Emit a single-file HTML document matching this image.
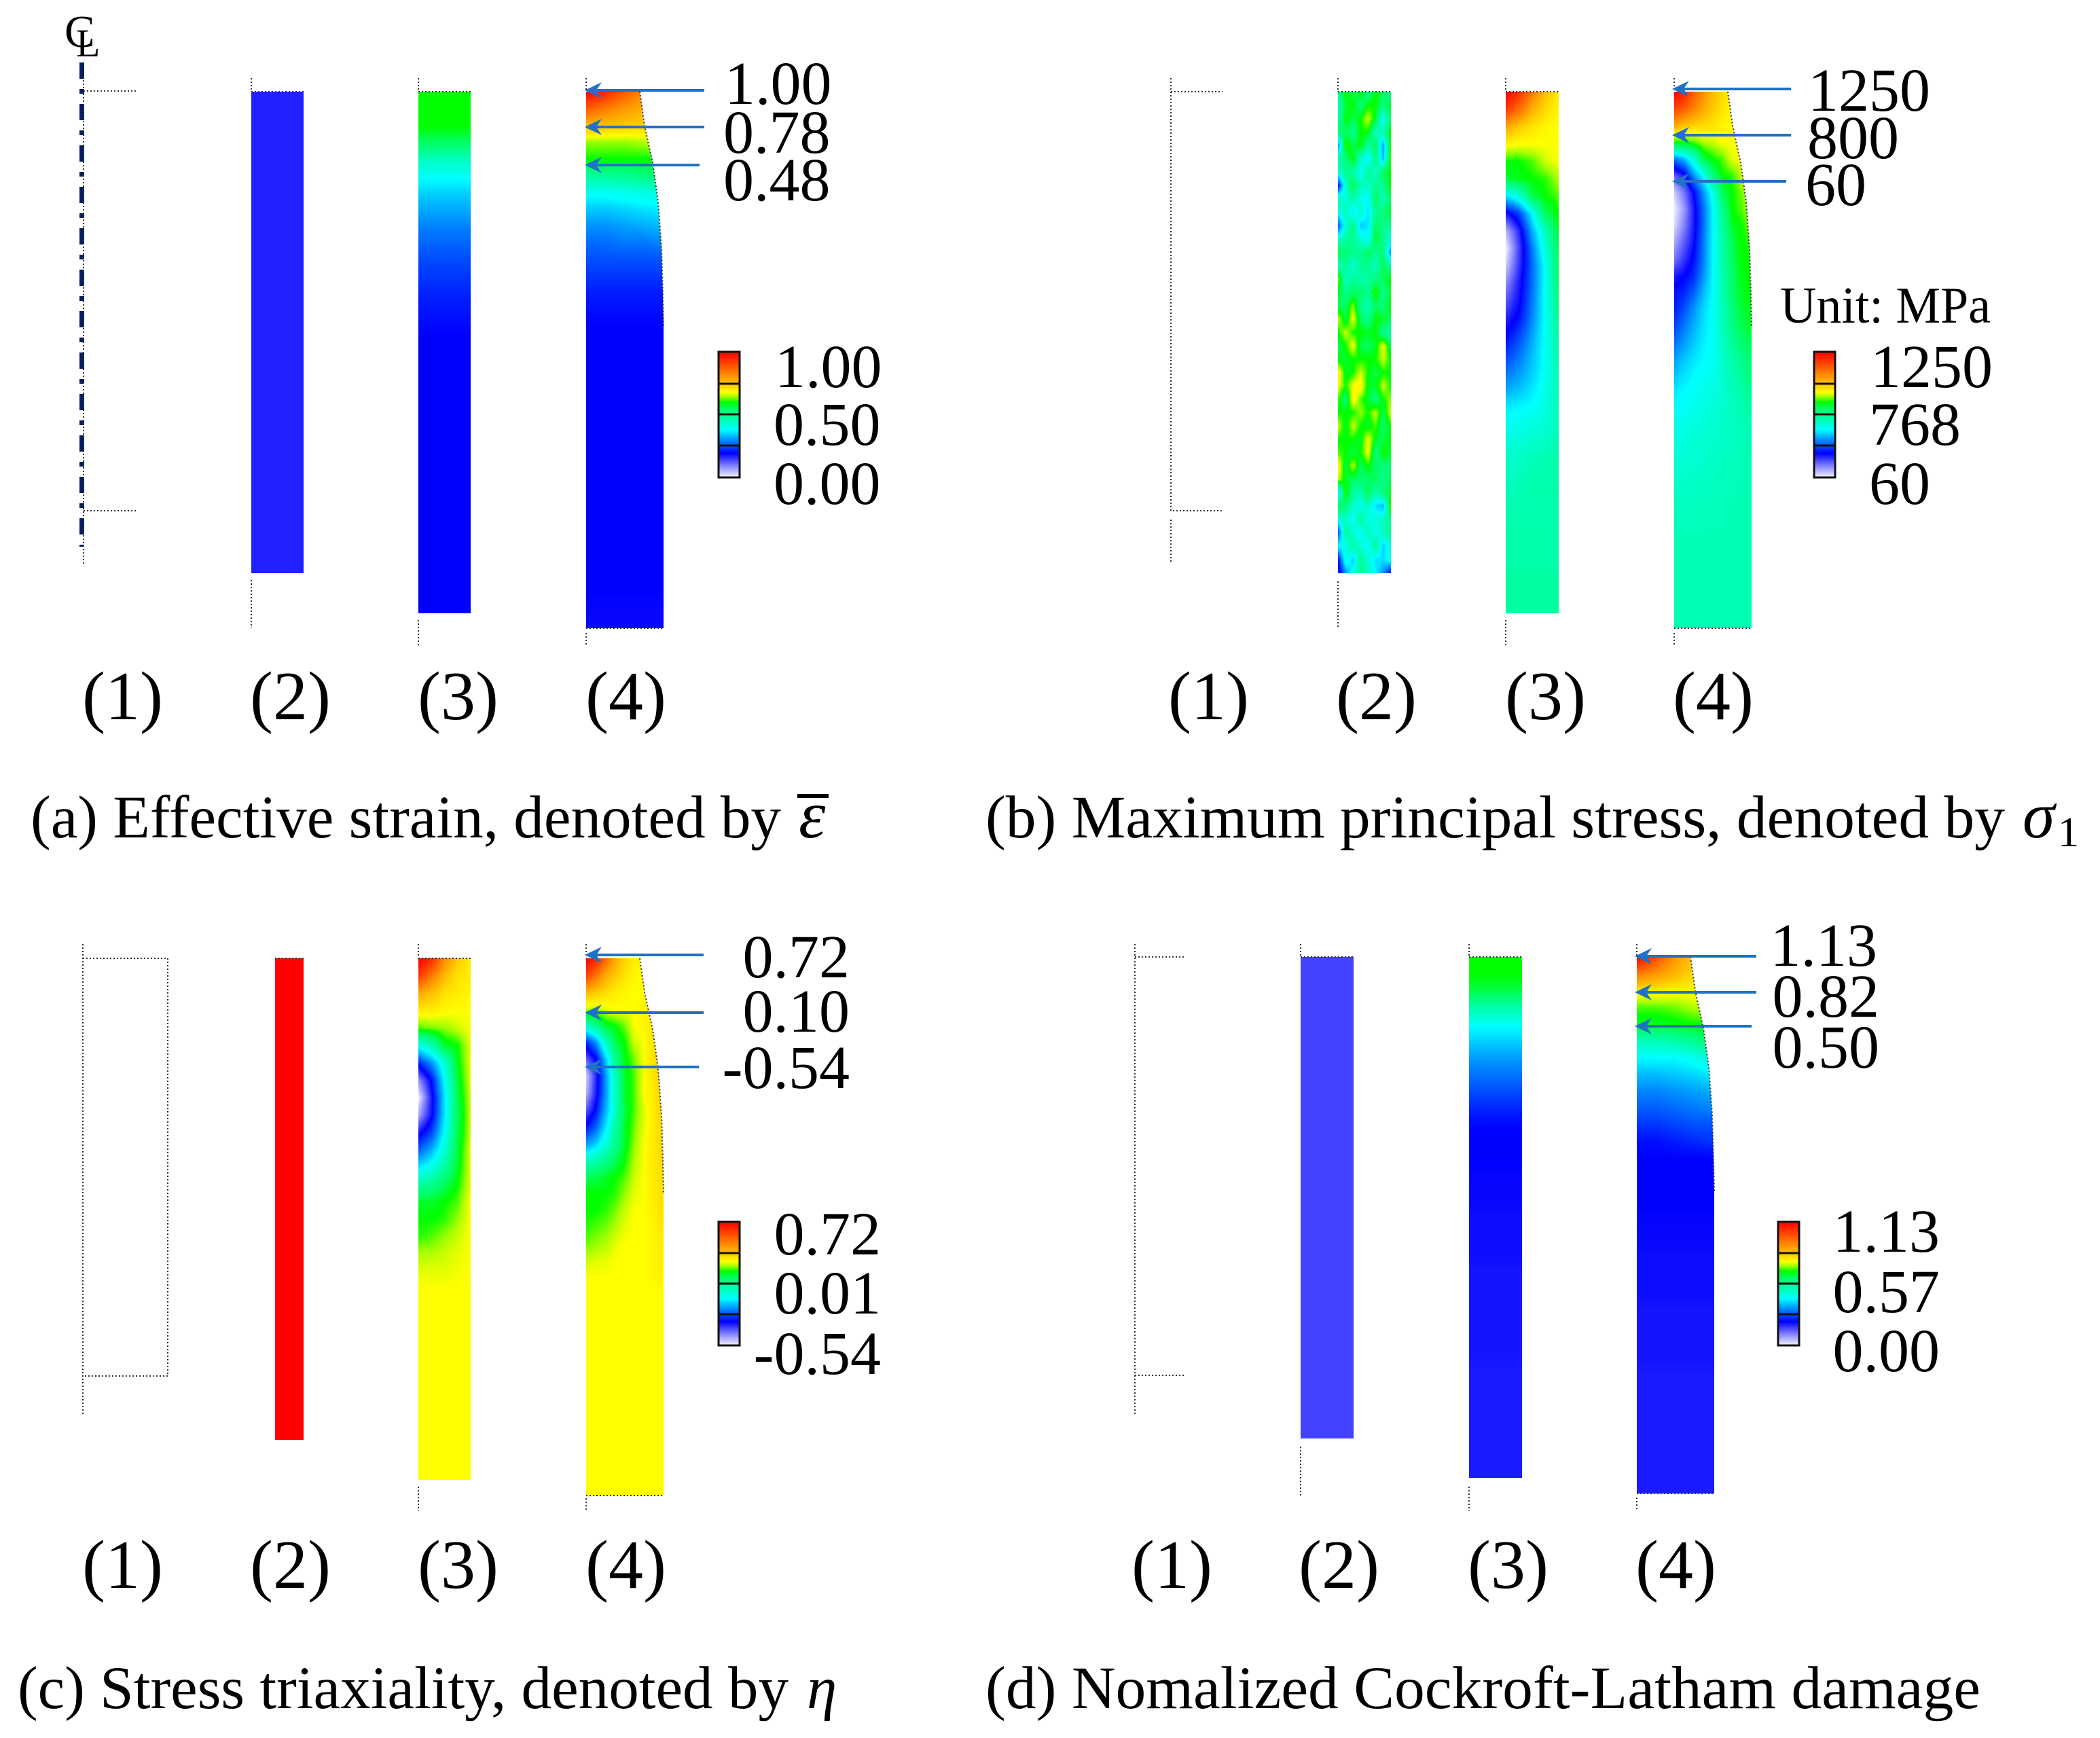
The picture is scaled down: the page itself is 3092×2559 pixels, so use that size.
<!DOCTYPE html>
<html lang="en">
<head>
<meta charset="utf-8">
<title>Contours of strain, stress, triaxiality and damage</title>
<style>
html,body{margin:0;padding:0;background:#fff}
#figure{position:relative;width:3092px;height:2559px;overflow:hidden;background:#fff}
canvas{position:absolute;display:block}
svg{position:absolute;left:0;top:0}
text{font-family:"Liberation Serif","Times New Roman",serif;fill:#000}
.num{font-size:90px}
.stage{font-size:102px}
.cap{font-size:89px}
.greek{font-size:89px;font-style:italic}
.dot{stroke:#333;stroke-width:2;stroke-dasharray:2 3;fill:none}
.arrow-line{stroke:#1f72c4;stroke-width:4}
.arrow-head{fill:#1f72c4}
.frame{fill:none;stroke:#111;stroke-width:3}
.divider{stroke:#111;stroke-width:3}
.neck{clip-path:polygon(0 0,79px 0,86px 50px,98px 105px,106px 162px,111px 232px,113px 298px,114px 345px,114px 100%,0 100%)}
</style>
</head>
<body>
<div id="figure">
<!-- panel a -->
<canvas id="a2" width="77" height="709" style="left:370px;top:135px"></canvas>
<canvas id="a3" width="77" height="768" style="left:616px;top:135px"></canvas>
<canvas id="a4" class="neck" width="114" height="790" style="left:863px;top:135px"></canvas>
<canvas id="legA" class="leg" width="31" height="185" style="left:1058px;top:518px"></canvas>
<!-- panel b -->
<canvas id="b2" width="78" height="709" style="left:1970px;top:135px"></canvas>
<canvas id="b3" width="78" height="768" style="left:2217px;top:135px"></canvas>
<canvas id="b4" class="neck" width="114" height="790" style="left:2465px;top:135px"></canvas>
<canvas id="legB" class="leg" width="31" height="185" style="left:2671px;top:518px"></canvas>
<!-- panel c -->
<canvas id="c2" width="42" height="709" style="left:405px;top:1411px"></canvas>
<canvas id="c3" width="77" height="768" style="left:616px;top:1411px"></canvas>
<canvas id="c4" class="neck" width="114" height="791" style="left:863px;top:1411px"></canvas>
<canvas id="legC" class="leg" width="31" height="182" style="left:1058px;top:1799px"></canvas>
<!-- panel d -->
<canvas id="d2" width="78" height="709" style="left:1915px;top:1409px"></canvas>
<canvas id="d3" width="78" height="767" style="left:2163px;top:1409px"></canvas>
<canvas id="d4" class="neck" width="114" height="790" style="left:2410px;top:1409px"></canvas>
<canvas id="legD" class="leg" width="31" height="182" style="left:2618px;top:1799px"></canvas>

<svg width="3092" height="2559" viewBox="0 0 3092 2559">
<defs>
<g id="head"><polygon points="0,0 25,-12 17,0 25,12" class="arrow-head"/></g>
</defs>

<!-- panel a annotations -->
<g>
<line x1="120.5" y1="92" x2="120.5" y2="805" stroke="#001f5f" stroke-width="7" stroke-dasharray="24 15 7 15"/>
<text x="95" y="69" style="font-size:67px">C</text>
<text x="112" y="83" style="font-size:58px">L</text>
<path class="dot" d="M123 113V830M123 134H200M123 752H200M370 115V135M370 854V925M616 115V135M616 913V950M863 115V135M863 925H977M863 932V950M370 135H447M616 135H693"/>
<path class="dot" transform="translate(863,135)" d="M79 0L86 50L98 105L106 162L111 232L113 298L114 345"/>
<g>
<line class="arrow-line" x1="870" y1="133" x2="1037" y2="133"/><use href="#head" x="861" y="133"/>
<line class="arrow-line" x1="870" y1="187" x2="1037" y2="187"/><use href="#head" x="861" y="187"/>
<line class="arrow-line" x1="870" y1="243" x2="1030" y2="243"/><use href="#head" x="861" y="243"/>
</g>
<text class="num" x="1067" y="153">1.00</text>
<text class="num" x="1065" y="225">0.78</text>
<text class="num" x="1065" y="295">0.48</text>
<text class="num" x="1141" y="570">1.00</text>
<text class="num" x="1139" y="655">0.50</text>
<text class="num" x="1139" y="742">0.00</text>
<rect class="frame" x="1058" y="518" width="31" height="185"/>
<path class="divider" d="M1058 565H1089M1058 610H1089M1058 656H1089"/>
<text class="stage" x="121" y="1059">(1)</text>
<text class="stage" x="368" y="1059">(2)</text>
<text class="stage" x="615" y="1059">(3)</text>
<text class="stage" x="862" y="1059">(4)</text>
<text class="cap" x="45" y="1233" textLength="1105" lengthAdjust="spacingAndGlyphs">(a) Effective strain, denoted by</text>
<text class="greek" x="1176" y="1233" style="font-size:100px">ε</text>
<line x1="1174" y1="1172" x2="1220" y2="1172" stroke="#000" stroke-width="6"/>
</g>

<!-- panel b annotations -->
<g>
<path class="dot" d="M1724 115V752H1800M1724 135H1800M1724 765V830M1970 115V135M1970 856V925M2217 115V135M2217 913V950M2465 115V135M2465 925H2579M2465 932V950M1970 135H2048M2217 135H2295"/>
<path class="dot" transform="translate(2465,135)" d="M79 0L86 50L98 105L106 162L111 232L113 298L114 345"/>
<g>
<line class="arrow-line" x1="2470" y1="131" x2="2637" y2="131"/><use href="#head" x="2462" y="131"/>
<line class="arrow-line" x1="2470" y1="199" x2="2637" y2="199"/><use href="#head" x="2462" y="199"/>
<line class="arrow-line" x1="2470" y1="267" x2="2630" y2="267"/><use href="#head" x="2462" y="267"/>
</g>
<text class="num" x="2662" y="163">1250</text>
<text class="num" x="2661" y="233">800</text>
<text class="num" x="2658" y="302">60</text>
<text x="2621" y="475" style="font-size:76px" textLength="310" lengthAdjust="spacingAndGlyphs">Unit: MPa</text>
<text class="num" x="2754" y="570">1250</text>
<text class="num" x="2752" y="655">768</text>
<text class="num" x="2752" y="742">60</text>
<rect class="frame" x="2671" y="518" width="31" height="185"/>
<path class="divider" d="M2671 565H2702M2671 610H2702M2671 656H2702"/>
<text class="stage" x="1720" y="1059">(1)</text>
<text class="stage" x="1967" y="1059">(2)</text>
<text class="stage" x="2216" y="1059">(3)</text>
<text class="stage" x="2463" y="1059">(4)</text>
<text class="cap" x="1451" y="1233" textLength="1501" lengthAdjust="spacingAndGlyphs">(b) Maximum principal stress, denoted by</text>
<text class="greek" x="2978" y="1233" style="font-size:96px">σ</text>
<text x="3030" y="1246" style="font-size:62px">1</text>
</g>

<!-- panel c annotations -->
<g>
<path class="dot" d="M122 1390V2085M122 1411H247V2026H122M405 1411H447M616 1390V1411M616 1411H693M616 2189V2225M863 1390V1411M863 2202H977M863 2206V2225"/>
<path class="dot" transform="translate(863,1411)" d="M79 0L86 50L98 105L106 162L111 232L113 298L114 345"/>
<g>
<line class="arrow-line" x1="870" y1="1406" x2="1036" y2="1406"/><use href="#head" x="861" y="1406"/>
<line class="arrow-line" x1="870" y1="1491" x2="1036" y2="1491"/><use href="#head" x="861" y="1491"/>
<line class="arrow-line" x1="870" y1="1571" x2="1029" y2="1571"/><use href="#head" x="861" y="1571"/>
</g>
<text class="num" x="1251" y="1439" text-anchor="end">0.72</text>
<text class="num" x="1251" y="1519" text-anchor="end">0.10</text>
<text class="num" x="1251" y="1602" text-anchor="end">-0.54</text>
<text class="num" x="1297" y="1847" text-anchor="end">0.72</text>
<text class="num" x="1297" y="1934" text-anchor="end">0.01</text>
<text class="num" x="1297" y="2023" text-anchor="end">-0.54</text>
<rect class="frame" x="1058" y="1799" width="31" height="182"/>
<path class="divider" d="M1058 1845H1089M1058 1890H1089M1058 1935H1089"/>
<text class="stage" x="121" y="2338">(1)</text>
<text class="stage" x="368" y="2338">(2)</text>
<text class="stage" x="615" y="2338">(3)</text>
<text class="stage" x="862" y="2338">(4)</text>
<text class="cap" x="26" y="2515" textLength="1135" lengthAdjust="spacingAndGlyphs">(c) Stress triaxiality, denoted by</text>
<text class="greek" x="1188" y="2515">η</text>
</g>

<!-- panel d annotations -->
<g>
<path class="dot" d="M1671 1390V2085M1671 1409H1743M1671 2025H1743M1915 1390V1409M1915 2130V2205M1915 1409H1993M2163 1390V1409M2163 1409H2241M2163 2189V2225M2410 1390V1409M2410 2199H2524M2410 2205V2225"/>
<path class="dot" transform="translate(2410,1409)" d="M79 0L86 50L98 105L106 162L111 232L113 298L114 345"/>
<g>
<line class="arrow-line" x1="2416" y1="1408" x2="2586" y2="1408"/><use href="#head" x="2407" y="1408"/>
<line class="arrow-line" x1="2416" y1="1461" x2="2586" y2="1461"/><use href="#head" x="2407" y="1461"/>
<line class="arrow-line" x1="2416" y1="1511" x2="2579" y2="1511"/><use href="#head" x="2407" y="1511"/>
</g>
<text class="num" x="2764" y="1422" text-anchor="end">1.13</text>
<text class="num" x="2767" y="1497" text-anchor="end">0.82</text>
<text class="num" x="2767" y="1572" text-anchor="end">0.50</text>
<text class="num" x="2856" y="1843" text-anchor="end">1.13</text>
<text class="num" x="2856" y="1932" text-anchor="end">0.57</text>
<text class="num" x="2856" y="2019" text-anchor="end">0.00</text>
<rect class="frame" x="2618" y="1799" width="31" height="182"/>
<path class="divider" d="M2618 1845H2649M2618 1890H2649M2618 1935H2649"/>
<text class="stage" x="1666" y="2338">(1)</text>
<text class="stage" x="1912" y="2338">(2)</text>
<text class="stage" x="2161" y="2338">(3)</text>
<text class="stage" x="2408" y="2338">(4)</text>
<text class="cap" x="1451" y="2515" textLength="1465" lengthAdjust="spacingAndGlyphs">(d) Nomalized Cockroft-Latham damage</text>
</g>
</svg>
</div>

<script>
// Colour scale: normalised contour value (0 = min, 1 = max) to RGB.
const scaleLevels = [0, 0.1, 0.19, 0.38, 0.55, 0.6, 0.64, 0.68, 0.75, 1];
const scaleColors = [[240,240,255],[118,118,255],[0,0,255],[0,255,255],[0,255,96],[0,255,0],[150,255,0],[255,255,0],[255,192,0],[255,0,0]];

// Field grids: rows are evenly spaced over each bar's height, columns evenly
// spaced over its width. A one-value row is uniform across the width.
const strain2 = [[0.165]];
const strain3 = [[0.6],[0.6],[0.6],[0.54],[0.44],[0.38],[0.34],[0.31],[0.28],[0.26],[0.24],[0.225],[0.21],[0.2],[0.19],[0.19],[0.19],[0.19],[0.19],[0.19],[0.19],[0.19],[0.19],[0.19],[0.19],[0.19],[0.19],[0.19],[0.19],[0.19],[0.19]];
const strain4 = [
[1,0.95,0.88,0.82,0.78],[0.88,0.84,0.8,0.77,0.75],[0.76,0.75,0.74,0.73,0.72],[0.64,0.64,0.64,0.65,0.66],
[0.6,0.6,0.6,0.6,0.6],[0.48,0.49,0.5,0.52,0.53],[0.39,0.395,0.4,0.41,0.42],[0.34,0.34,0.35,0.36,0.37],
[0.3,0.3,0.31,0.32,0.33],[0.27,0.27,0.28,0.28,0.29],[0.25],[0.23],[0.21],[0.2],[0.19],[0.19],[0.19],[0.19],[0.19],[0.19],
[0.19],[0.19],[0.19],[0.19],[0.19],[0.19],[0.19],[0.19],[0.19],[0.19],[0.19],[0.185],[0.185]];

const stress2 = [
[0.5,0.6,0.55,0.6,0.5,0.6,0.55,0.5],
[0.45,0.58,0.6,0.52,0.6,0.6,0.52,0.58],
[0.46,0.6,0.56,0.6,0.66,0.58,0.38,0.55],
[0.52,0.55,0.5,0.6,0.6,0.44,0.46,0.6],
[0.3,0.62,0.56,0.6,0.48,0.55,0.3,0.6],
[0.46,0.52,0.6,0.44,0.36,0.52,0.32,0.62],
[0.42,0.5,0.48,0.38,0.5,0.44,0.55,0.6],
[0.2,0.44,0.56,0.46,0.44,0.5,0.5,0.6],
[0.45,0.42,0.48,0.4,0.38,0.55,0.44,0.55],
[0.4,0.46,0.36,0.44,0.36,0.5,0.52,0.58],
[0.25,0.42,0.52,0.34,0.36,0.55,0.5,0.5],
[0.42,0.48,0.5,0.42,0.38,0.58,0.5,0.42],
[0.56,0.52,0.5,0.5,0.55,0.5,0.52,0.3],
[0.44,0.5,0.42,0.5,0.5,0.44,0.56,0.48],
[0.64,0.44,0.5,0.46,0.48,0.52,0.55,0.6],
[0.58,0.5,0.55,0.54,0.5,0.62,0.5,0.58],
[0.55,0.55,0.64,0.5,0.46,0.55,0.52,0.6],
[0.66,0.56,0.68,0.55,0.5,0.6,0.58,0.55],
[0.6,0.66,0.6,0.6,0.58,0.6,0.5,0.48],
[0.56,0.6,0.68,0.56,0.55,0.58,0.68,0.56],
[0.58,0.58,0.6,0.6,0.6,0.6,0.66,0.6],
[0.7,0.58,0.6,0.66,0.6,0.56,0.6,0.6],
[0.68,0.6,0.68,0.7,0.58,0.58,0.66,0.6],
[0.62,0.52,0.7,0.62,0.58,0.52,0.6,0.64],
[0.6,0.6,0.6,0.64,0.6,0.66,0.56,0.66],
[0.66,0.58,0.66,0.6,0.58,0.62,0.54,0.6],
[0.6,0.6,0.6,0.58,0.68,0.58,0.56,0.6],
[0.62,0.6,0.56,0.6,0.68,0.52,0.6,0.58],
[0.7,0.56,0.66,0.55,0.6,0.54,0.52,0.54],
[0.66,0.58,0.55,0.54,0.54,0.56,0.5,0.56],
[0.35,0.62,0.48,0.46,0.56,0.46,0.52,0.58],
[0.55,0.52,0.44,0.4,0.44,0.36,0.32,0.62],
[0.4,0.44,0.38,0.5,0.4,0.42,0.44,0.5],
[0.25,0.5,0.42,0.38,0.46,0.4,0.44,0.5],
[0.38,0.4,0.48,0.42,0.38,0.5,0.34,0.42],
[0.2,0.42,0.34,0.5,0.42,0.36,0.36,0.4],
[0.16,0.3,0.4,0.5,0.44,0.38,0.3,0.2]];
const stress3 = [
[1,0.94,0.84,0.75,0.7],[0.93,0.86,0.77,0.72,0.69],[0.78,0.74,0.71,0.69,0.68],[0.69,0.68,0.68,0.68,0.68],
[0.6,0.6,0.62,0.66,0.68],[0.57,0.59,0.6,0.61,0.65],[0.36,0.42,0.56,0.6,0.62],[0.17,0.24,0.38,0.55,0.6],
[0.05,0.16,0.32,0.45,0.58],[0,0.14,0.28,0.42,0.56],[0.03,0.15,0.27,0.39,0.55],[0.08,0.17,0.27,0.39,0.54],
[0.12,0.18,0.28,0.39,0.52],[0.16,0.2,0.29,0.39,0.5],[0.19,0.24,0.31,0.39,0.49],[0.23,0.27,0.33,0.39,0.48],
[0.27,0.3,0.34,0.39,0.47],[0.31,0.33,0.36,0.4,0.47],[0.36,0.37,0.38,0.41,0.46],[0.39,0.4,0.41,0.42,0.46],
[0.41,0.42,0.43,0.44,0.46],[0.43,0.44,0.45,0.46,0.47],[0.44,0.45,0.46,0.47,0.47],[0.45,0.46,0.47,0.47,0.48],
[0.46,0.47],[0.47],[0.47],[0.47],[0.48],[0.48],[0.48]];
const stress4 = [
[1,0.96,0.88,0.82,0.76,0.72,0.69,0.68,0.68],[0.92,0.88,0.83,0.78,0.74,0.71,0.69,0.68,0.68],[0.78,0.75,0.73,0.72,0.71,0.69,0.68,0.68,0.68],
[0.6,0.6,0.62,0.65,0.66,0.68,0.68,0.68,0.68],[0.28,0.33,0.42,0.56,0.6,0.62,0.67,0.68,0.68],[0.12,0.17,0.3,0.38,0.52,0.6,0.61,0.66,0.68],
[0.03,0.1,0.19,0.3,0.4,0.55,0.6,0.63,0.68],[0,0.07,0.17,0.27,0.38,0.5,0.6,0.62,0.66],[0.02,0.09,0.17,0.27,0.38,0.48,0.58,0.6,0.64],
[0.06,0.12,0.18,0.28,0.38,0.47,0.56,0.6,0.61],[0.1,0.15,0.2,0.28,0.38,0.47,0.55,0.6,0.6],[0.17,0.19,0.22,0.3,0.38,0.46,0.54,0.59,0.6],
[0.2,0.22,0.26,0.33,0.38,0.46,0.54,0.58,0.6],[0.21,0.25,0.3,0.35,0.39,0.45,0.52,0.57,0.59],[0.24,0.28,0.32,0.36,0.39,0.45,0.51,0.56,0.58],
[0.27,0.31,0.34,0.37,0.39,0.44,0.49,0.53,0.56],[0.31,0.34,0.36,0.38,0.39,0.43,0.47,0.5,0.54],[0.34,0.36,0.38,0.39,0.4,0.43,0.46,0.49,0.52],
[0.37,0.38,0.39,0.4,0.41,0.43,0.45,0.47,0.5],[0.38,0.39,0.4,0.41,0.42,0.43,0.45,0.46,0.48],[0.4,0.42,0.44,0.46],[0.41,0.43,0.44,0.46],
[0.42,0.43,0.45,0.46],[0.43,0.44,0.45,0.46],[0.44,0.45,0.46],[0.45,0.46],[0.45,0.46],[0.46],[0.46],[0.46],[0.46],[0.46],[0.46]];

const triax2 = [[1]];
const triax3 = [
[1,0.95,0.82,0.74,0.7],[0.93,0.84,0.76,0.71,0.7],[0.78,0.75,0.71,0.7,0.69],[0.7,0.7,0.69,0.68,0.68],
[0.62,0.63,0.64,0.66,0.68],[0.4,0.46,0.58,0.6,0.67],[0.22,0.3,0.42,0.59,0.67],[0.08,0.2,0.38,0.57,0.67],
[0,0.17,0.36,0.56,0.66],[0.06,0.18,0.36,0.55,0.66],[0.17,0.24,0.38,0.56,0.66],[0.26,0.32,0.42,0.57,0.67],
[0.36,0.4,0.48,0.58,0.67],[0.48,0.5,0.55,0.6,0.67],[0.58,0.58,0.6,0.62,0.68],[0.6,0.6,0.61,0.64,0.68],
[0.61,0.62,0.64,0.66,0.68],[0.65,0.65,0.66,0.67,0.68],[0.67,0.67,0.68],[0.68],[0.68],[0.68],[0.68],[0.68],[0.68],[0.68],[0.68],[0.68],[0.68],[0.68],[0.68]];
const triax4 = [
[1,0.95,0.87,0.78,0.73,0.7,0.69,0.68,0.68],[0.92,0.85,0.78,0.74,0.71,0.69,0.68,0.68,0.68],[0.76,0.74,0.72,0.7,0.69,0.68,0.68,0.68,0.68],
[0.66,0.66,0.67,0.68,0.68,0.68,0.69,0.7,0.7],[0.44,0.5,0.58,0.6,0.63,0.68,0.69,0.71,0.73],[0.22,0.3,0.44,0.56,0.6,0.66,0.68,0.71,0.74],
[0.12,0.19,0.34,0.5,0.59,0.63,0.68,0.71,0.75],[0.03,0.16,0.3,0.45,0.58,0.62,0.68,0.71,0.74],[0.05,0.17,0.3,0.44,0.58,0.62,0.68,0.7,0.74],
[0.12,0.2,0.32,0.44,0.57,0.62,0.67,0.7,0.74],[0.2,0.26,0.36,0.47,0.58,0.63,0.67,0.7,0.73],[0.3,0.34,0.41,0.5,0.58,0.64,0.68,0.7,0.73],
[0.43,0.46,0.5,0.55,0.6,0.65,0.68,0.7,0.73],[0.55,0.56,0.58,0.6,0.62,0.66,0.68,0.7,0.72],[0.6,0.6,0.6,0.61,0.64,0.67,0.68,0.7,0.72],
[0.6,0.6,0.61,0.63,0.66,0.68,0.68,0.7,0.71],[0.61,0.62,0.63,0.65,0.67,0.68,0.68,0.69,0.71],[0.63,0.64,0.65,0.67,0.68,0.68,0.68,0.69,0.7],
[0.66,0.67,0.67,0.68,0.68,0.68,0.68,0.69,0.7],[0.68,0.68,0.68,0.68,0.68,0.68,0.68,0.69,0.69],[0.68],[0.68],[0.68],[0.68],[0.68],[0.68],[0.68],[0.68],[0.68],[0.68],[0.68],[0.68],[0.68]];

const damage2 = [[0.14]];
const damage3 = [[0.6],[0.6],[0.56],[0.46],[0.38],[0.34],[0.3],[0.27],[0.24],[0.21],[0.19],[0.19],[0.19],[0.185],[0.185],[0.18],[0.18],[0.18],[0.175],[0.175],[0.175],[0.175],[0.175],[0.175],[0.17],[0.17],[0.17],[0.17],[0.17],[0.17],[0.17]];
const damage4 = [
[1,0.9,0.8,0.74,0.7],[0.84,0.8,0.76,0.72,0.7],[0.7,0.7,0.69,0.69,0.68],[0.62,0.62,0.63,0.65,0.66],[0.58,0.58,0.59,0.6,0.6],
[0.45,0.46,0.47,0.5,0.55],[0.38,0.38,0.38,0.4,0.43],[0.33,0.33,0.34,0.35,0.37],[0.29,0.29,0.3,0.31,0.32],[0.26,0.26,0.27,0.28,0.29],
[0.23,0.23,0.24,0.25,0.25],[0.2,0.2,0.21,0.22,0.23],[0.19],[0.19],[0.19],[0.19],[0.185],[0.185],[0.18],[0.18],[0.18],[0.175],[0.175],[0.175],[0.175],[0.17],[0.17],[0.17],[0.17],[0.17],[0.17],[0.17],[0.17]];

const fieldGrids = {a2:strain2,a3:strain3,a4:strain4,b2:stress2,b3:stress3,b4:stress4,c2:triax2,c3:triax3,c4:triax4,d2:damage2,d3:damage3,d4:damage4};

function colorOf(v){
  v = Math.max(0, Math.min(1, v));
  for (let i = 1; i < scaleLevels.length; i++) {
    if (v <= scaleLevels[i]) {
      const t = (v - scaleLevels[i-1]) / (scaleLevels[i] - scaleLevels[i-1]);
      const a = scaleColors[i-1], b = scaleColors[i];
      return [a[0]+(b[0]-a[0])*t, a[1]+(b[1]-a[1])*t, a[2]+(b[2]-a[2])*t];
    }
  }
  return scaleColors[scaleColors.length-1];
}
function rowValue(row, u){
  if (row.length === 1) return row[0];
  const p = u * (row.length - 1), i = Math.min(Math.floor(p), row.length - 2), f = p - i;
  return row[i] + (row[i+1] - row[i]) * f;
}
function paint(canvas, valueAt){
  const w = canvas.width, h = canvas.height, ctx = canvas.getContext('2d');
  const img = ctx.createImageData(w, h);
  for (let y = 0; y < h; y++) for (let x = 0; x < w; x++) {
    const c = colorOf(valueAt(x / Math.max(1, w - 1), y / Math.max(1, h - 1)));
    const k = (y * w + x) * 4;
    img.data[k] = c[0]; img.data[k+1] = c[1]; img.data[k+2] = c[2]; img.data[k+3] = 255;
  }
  ctx.putImageData(img, 0, 0);
}
Object.keys(fieldGrids).forEach(function(id){
  const grid = fieldGrids[id];
  paint(document.getElementById(id), function(u, t){
    if (grid.length === 1) return rowValue(grid[0], u);
    const p = t * (grid.length - 1), i = Math.min(Math.floor(p), grid.length - 2), f = p - i;
    const a = rowValue(grid[i], u), b = rowValue(grid[i+1], u);
    return a + (b - a) * f;
  });
});
document.querySelectorAll('canvas.leg').forEach(function(c){
  paint(c, function(u, t){ return 1 - t; });
});
</script>
</body>
</html>
